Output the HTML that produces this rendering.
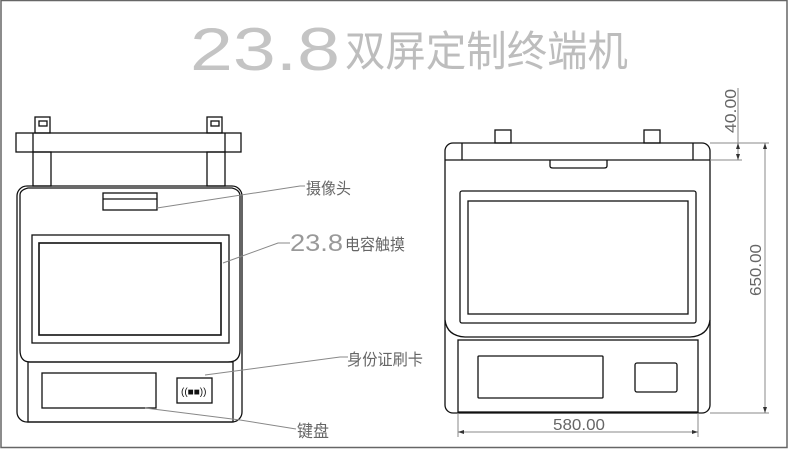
<!DOCTYPE html>
<html><head><meta charset="utf-8"><style>
html,body{margin:0;padding:0;background:#fff;width:790px;height:449px;overflow:hidden}
svg{display:block}
.t{font-family:"Liberation Sans","Noto Sans CJK SC",sans-serif;fill:#666}
</style></head><body>
<svg width="790" height="449" viewBox="0 0 790 449" xmlns="http://www.w3.org/2000/svg">
<rect x="1" y="0.5" width="786" height="447" fill="none" stroke="#666" stroke-width="1.5"/>
<text class="t" x="190" y="70" font-size="60" style="fill:#c4c4c4" textLength="150" lengthAdjust="spacingAndGlyphs">23.8</text>
<text class="t" x="345" y="66" font-size="42" style="fill:#bdbdbd" textLength="283" lengthAdjust="spacingAndGlyphs">双屏定制终端机</text>

<g fill="none" stroke="#111" stroke-width="1.3">
<!-- left device -->
<rect x="35" y="117" width="15" height="16"/><rect x="39" y="121" width="8" height="5"/>
<rect x="207" y="117" width="15" height="16"/><rect x="211" y="121" width="8" height="5"/>
<rect x="16" y="133" width="225" height="19"/>
<line x1="33" y1="133" x2="33" y2="152"/><line x1="225" y1="133" x2="225" y2="152"/>
<rect x="33" y="152" width="18" height="34"/><rect x="207" y="152" width="18" height="34"/>
<rect x="17" y="186" width="225" height="236" rx="10"/>
<path d="M20 195 Q20 190 28 188 L232 188 Q240 190 240 196 L240 350 Q240 362 228 362 L30 362 Q20 362 20 350 Z"/>
<rect x="103" y="193" width="54" height="17"/><line x1="103" y1="199" x2="157" y2="199"/>
<rect x="32" y="235" width="197" height="108"/>
<rect x="39" y="243" width="182" height="92" stroke-width="1.6"/>
<rect x="28" y="362" width="205" height="60"/>
<rect x="42" y="373" width="114" height="35"/>
<rect x="177" y="378" width="35" height="25"/>
<text class="t" x="181" y="395" font-size="10" style="fill:#111;stroke:none">((■■))</text>
<!-- right device -->
<rect x="495" y="130" width="16" height="13"/><rect x="644" y="130" width="16" height="13"/>
<rect x="445" y="143" width="265" height="270" rx="8"/>
<line x1="445" y1="160" x2="710" y2="160"/>
<line x1="462" y1="143" x2="462" y2="160"/><line x1="693" y1="143" x2="693" y2="160"/>
<path d="M550 160 L550 166 Q550 168 553 168 L604 168 Q607 168 607 166 L607 160"/>
<path d="M445 320 Q447 336 465 337 L690 337 Q708 336 710 320"/>
<rect x="460" y="191" width="236" height="132" rx="2"/>
<rect x="468" y="201" width="220" height="113"/>
<rect x="458" y="340" width="240" height="72"/>
<rect x="478" y="356" width="125" height="42" rx="1"/>
<rect x="635" y="363" width="42" height="29" rx="2"/>
</g>
<!-- leaders -->
<g stroke="#888" stroke-width="1" fill="none">
<polyline points="157,208 300,186 305,186"/>
<polyline points="223,263 278,243 290,243"/>
<polyline points="205,375 340,357 348,357"/>
<polyline points="145,408 240,420 296,429"/>
<!-- dims -->
<line x1="458" y1="413" x2="458" y2="437"/><line x1="698" y1="413" x2="698" y2="437"/>
<line x1="458" y1="432" x2="698" y2="432"/>
<line x1="710" y1="143" x2="769" y2="143"/><line x1="710" y1="413" x2="769" y2="413"/>
<line x1="765" y1="143" x2="765" y2="413"/>
<line x1="710" y1="160" x2="742" y2="160"/>
<line x1="738" y1="88" x2="738" y2="160"/>
</g>
<g fill="#333"><path d="M458 432 l6 -2 v4z"/><path d="M698 432 l-6 -2 v4z"/><path d="M765 143 l-2 6 h4z"/><path d="M765 413 l-2 -6 h4z"/><path d="M738 143 l-2 6 h4z"/><path d="M738 160 l-2 -6 h4z"/></g>
<text class="t" x="306" y="194" font-size="16" textLength="45" lengthAdjust="spacingAndGlyphs">摄像头</text>
<text class="t" x="290" y="251" font-size="24" style="fill:#999" textLength="53" lengthAdjust="spacingAndGlyphs">23.8</text>
<text class="t" x="345" y="250" font-size="16" textLength="60" lengthAdjust="spacingAndGlyphs">电容触摸</text>
<text class="t" x="347" y="365" font-size="16" textLength="76" lengthAdjust="spacingAndGlyphs">身份证刷卡</text>
<text class="t" x="297" y="437" font-size="17" textLength="32" lengthAdjust="spacingAndGlyphs">键盘</text>
<text class="t" x="553" y="430" font-size="16" textLength="52" lengthAdjust="spacingAndGlyphs">580.00</text>
<text class="t" font-size="16" transform="translate(761,296) rotate(-90)" textLength="52" lengthAdjust="spacingAndGlyphs">650.00</text>
<text class="t" font-size="16" transform="translate(736,133) rotate(-90)" textLength="44" lengthAdjust="spacingAndGlyphs">40.00</text>
</svg>
</body></html>
